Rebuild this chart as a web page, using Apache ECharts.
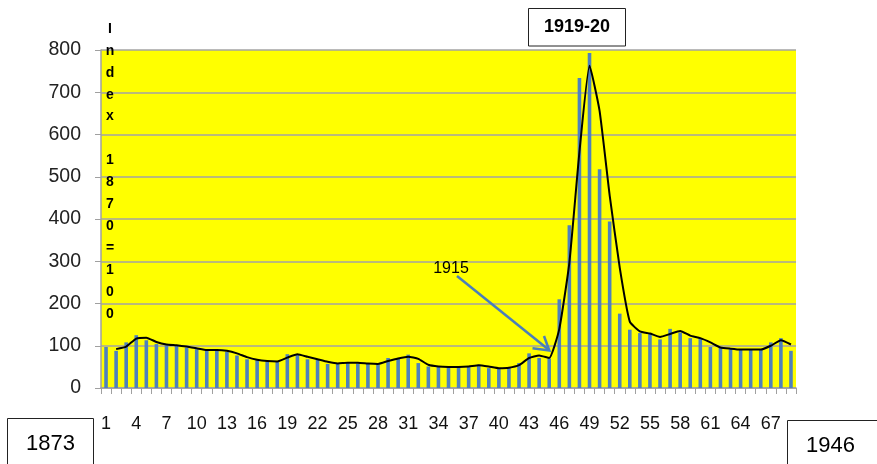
<!DOCTYPE html>
<html>
<head>
<meta charset="utf-8">
<script src="https://cdn.jsdelivr.net/npm/echarts@6/dist/echarts.min.js"></script>
<style>
html,body{margin:0;padding:0;background:#fff;}
#chart{width:877px;height:464px;}
</style>
</head>
<body>
<div id="chart"></div>
<script>
// Categories 1..69
const categories = [
  '1','2','3','4','5','6','7','8','9','10',
  '11','12','13','14','15','16','17','18','19','20',
  '21','22','23','24','25','26','27','28','29','30',
  '31','32','33','34','35','36','37','38','39','40',
  '41','42','43','44','45','46','47','48','49','50',
  '51','52','53','54','55','56','57','58','59','60',
  '61','62','63','64','65','66','67','68','69'
];
// Index values (bars)
const indexValues = [
  97, 88, 108, 125, 113, 104, 101, 101, 96, 92,
  88, 91, 86, 77, 68, 66, 62, 64, 80, 80,
  68, 68, 57, 59, 61, 58, 57, 57, 71, 69,
  79, 59, 51, 50, 50, 50, 52, 55, 47, 47,
  49, 59, 82, 71, 70, 210, 385, 734, 793, 518,
  394, 176, 138, 130, 128, 115, 140, 131, 118, 118,
  97, 95, 92, 91, 91, 92, 108, 118, 88
];
// Trend line values (2-period moving average)
const trendValues = [
  null, 92, 98, 117, 119, 109, 103, 101, 98, 94,
  90, 90, 88, 82, 73, 67, 64, 63, 72, 80,
  74, 68, 62, 58, 60, 60, 58, 57, 64, 70,
  74, 69, 55, 51, 50, 50, 51, 54, 51, 47,
  48, 54, 71, 77, 71, 140, 297, 559, 763, 656,
  456, 285, 157, 134, 129, 121, 128, 135, 124, 118,
  108, 96, 93, 91, 91, 91, 100, 113, 103
];
const yTicks = [0, 100, 200, 300, 400, 500, 600, 700, 800];
const axisTitle = 'Index 1870=100';
const startLabel = '1873';
const endLabel = '1946';
const peakLabel = '1919-20';
const noteLabel = '1915';

const chart = echarts.init(document.getElementById('chart'), null, {renderer: 'canvas'});
const FONT = '"Liberation Sans", Arial, sans-serif';

const option = {
  backgroundColor: '#ffffff',
  animation: false,
  grid: {
    left: 101, right: 81, top: 50, bottom: 76,
    show: true, backgroundColor: '#ffff00', borderWidth: 0
  },
  xAxis: {
    type: 'category',
    data: categories,
    boundaryGap: true,
    axisLine: {show: true, lineStyle: {color: '#a0a0a0', width: 1.5}},
    axisTick: {show: true, interval: 0, length: 6, lineStyle: {color: '#a0a0a0', width: 1}},
    axisLabel: {interval: 2, margin: 27, fontSize: 18, color: '#111', fontFamily: FONT},
    splitLine: {show: false}
  },
  yAxis: {
    type: 'value',
    min: yTicks[0], max: yTicks[yTicks.length - 1], interval: 100,
    axisLine: {show: true, lineStyle: {color: '#a0a0a0', width: 1.5}},
    axisTick: {show: true, length: 6, lineStyle: {color: '#a0a0a0', width: 1}},
    axisLabel: {margin: 20, fontSize: 19.5, color: '#222', fontFamily: FONT},
    splitLine: {show: true, lineStyle: {color: '#a3a3a3', width: 1.7}}
  },
  series: [
    {
      name: 'Index',
      type: 'bar',
      data: indexValues,
      barWidth: 3.6,
      itemStyle: {color: '#4f81bd'},
      z: 2
    },
    {
      name: 'Trend',
      type: 'line',
      data: trendValues,
      connectNulls: false,
      symbol: 'none',
      smooth: 0.15,
      lineStyle: {color: '#000000', width: 2},
      z: 3
    }
  ],
  graphic: [
    {
      type: 'text', left: null, x: 110, y: 18, z: 10,
      style: {
        text: axisTitle.replace(/ /g, '').split('').join('\n').replace('x\n1', 'x\n\n1'),
        font: 'bold 14px ' + FONT, fill: '#000', align: 'center', verticalAlign: 'top', lineHeight: 21.9
      }
    },
    {
      type: 'rect', z: 10,
      shape: {x: 528.5, y: 8.5, width: 97, height: 37.5},
      style: {fill: '#ffffff', stroke: '#222', lineWidth: 1}
    },
    {
      type: 'text', z: 11, x: 577, y: 27,
      style: {text: peakLabel, font: 'bold 18px ' + FONT, fill: '#000', align: 'center', verticalAlign: 'middle'}
    },
    {
      type: 'rect', z: 10,
      shape: {x: 7.5, y: 418.5, width: 86, height: 60},
      style: {fill: '#ffffff', stroke: '#222', lineWidth: 1}
    },
    {
      type: 'text', z: 11, x: 50.5, y: 444,
      style: {text: startLabel, font: '22px ' + FONT, fill: '#000', align: 'center', verticalAlign: 'middle'}
    },
    {
      type: 'rect', z: 10,
      shape: {x: 787.5, y: 420.5, width: 100, height: 60},
      style: {fill: '#ffffff', stroke: '#222', lineWidth: 1}
    },
    {
      type: 'text', z: 11, x: 830.5, y: 446,
      style: {text: endLabel, font: '22px ' + FONT, fill: '#000', align: 'center', verticalAlign: 'middle'}
    },
    {
      type: 'text', z: 11, x: 451, y: 269,
      style: {text: noteLabel, font: '16px ' + FONT, fill: '#000', align: 'center', verticalAlign: 'middle'}
    },
    {
      type: 'line', z: 11,
      shape: {x1: 457, y1: 276, x2: 549, y2: 350},
      style: {stroke: '#4a7ebb', lineWidth: 2.5}
    },
    {
      type: 'polyline', z: 11,
      shape: {points: [[532.5, 348.3], [549.3, 350.5], [544, 336]]},
      style: {stroke: '#4a7ebb', lineWidth: 2.5, fill: null, lineJoin: 'miter'}
    }
  ]
};
chart.setOption(option);
</script>
</body>
</html>
